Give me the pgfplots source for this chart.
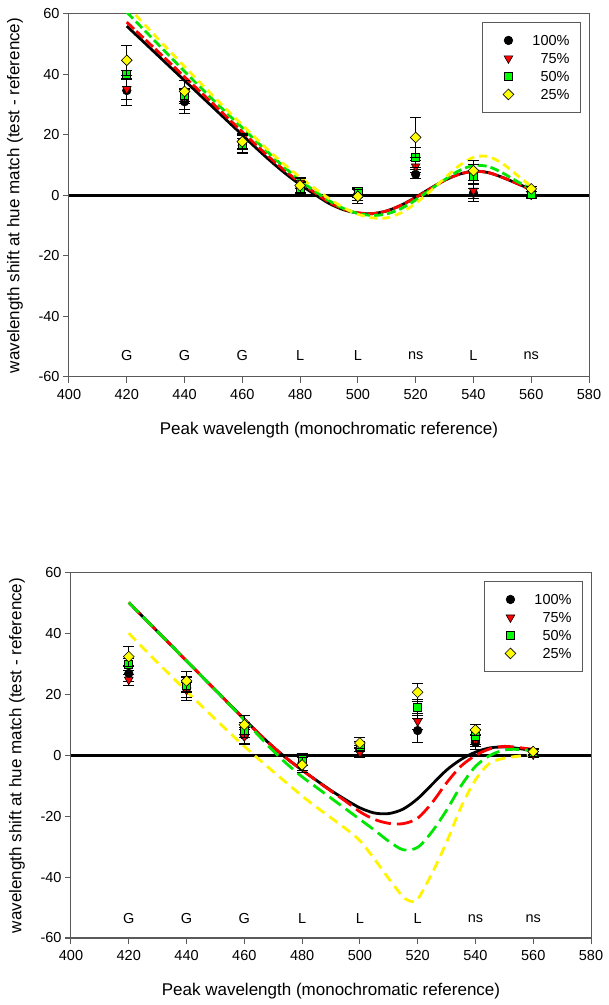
\documentclass[border=0pt]{standalone}
\usepackage{pgfplots}
\pgfplotsset{compat=1.18}
\usepackage{fontspec}
\setmainfont{Liberation Sans}

\definecolor{cgreen}{RGB}{0,230,0}
\definecolor{cyellow}{RGB}{255,245,0}
\definecolor{mgreen}{RGB}{0,255,0}
\definecolor{myellow}{RGB}{255,255,0}
\definecolor{axgray}{RGB}{90,90,90}

\pgfplotsset{
  myaxis/.style={
    scale only axis, width=520pt,
    xmin=400, xmax=580, ymin=-60, ymax=60,
    xtick={400,420,...,580}, ytick={-60,-40,...,60},
    tick align=outside, tick pos=left, major tick length=6pt,
    axis line style={axgray, line width=1pt},
    every tick/.style={axgray, line width=1pt},
    /pgf/number format/assume math mode=true,
    tick label style={font=\fontsize{14.5}{17}\selectfont},
    xticklabel style={yshift=-3pt},
    label style={font=\fontsize{17}{20}\selectfont},
    xlabel={Peak wavelength (monochromatic reference)},
    ylabel={wavelength shift at hue match (test - reference)},
    ylabel style={at={(axis description cs:-0.104,0.5)}, anchor=center},
    legend cell align=right,
    legend style={at={(axis description cs:0.9846,0.978)}, anchor=north east,
      draw=axgray, line width=0.9pt, fill=white,
      inner xsep=11pt, inner ysep=11pt, row sep=4pt,
      font=\fontsize{14.5}{17}\selectfont,
      nodes={inner sep=0pt, text height=12pt, text depth=2pt},
      /tikz/every odd column/.append style={column sep=15pt}},
    clip mode=individual,
  },
  lmark/.style={only marks,
    legend image code/.code={\path[draw=none,fill=none] (0pt,0pt) rectangle (24pt,0pt); \path[##1, line width=0.6pt] plot[only marks] coordinates {(15pt,0pt)};},
    error bars/y dir=both, error bars/y explicit,
    error bars/error bar style={black, line width=0.8pt},
    error bars/error mark options={rotate=90, mark size=5.5pt, black, line width=0.8pt}},
  s100/.style={lmark, mark=*, mark options={fill=black, draw=black, line width=0.6pt}, mark size=4.3pt},
  s75/.style={lmark, mark=triangle*, mark options={fill=red, draw=black, rotate=180, line width=0.6pt}, mark size=5pt},
  s50/.style={lmark, mark=square*, mark options={fill=mgreen, draw=black, line width=0.6pt}, mark size=4pt},
  s25/.style={lmark, mark=square*, mark options={fill=myellow, draw=black, rotate=45, line width=0.6pt}, mark size=3.8pt},
  curve/.style={line width=2.8pt, smooth, forget plot},
}

\begin{document}
\begin{tikzpicture}
\useasboundingbox (0,0) rectangle (609pt,1005pt);

% ---------------- top chart ----------------
\begin{axis}[myaxis, at={(69pt,628pt)}, anchor=south west, height=363pt,
  xlabel style={at={(axis description cs:0.5,-0.146)}, anchor=center}]
\addplot[black, line width=3pt, forget plot] coordinates {(400,0) (580,0)};
\addplot[black, curve] coordinates {
(420,56) (425,51.5) (430,47) (435,42.5) (440,38) (445,33.5) (450,29) (455,24.5) (460,20)
(465,15.5) (470,11.2) (475,7.2) (480,3.6) (485,0.4) (490,-2.6) (495,-4.7) (500,-5.8)
(505,-6.0) (510,-5.1) (515,-3.2) (520,-0.6) (525,2.3) (530,5.0) (535,7.0) (540,8.0)
(545,7.6) (550,6.0) (555,4.0) (560,2.0)};
\addplot[red, curve, dash pattern=on 10pt off 3pt] coordinates {
(420,57.3) (425,52.8) (430,48.3) (435,43.8) (440,39.2) (445,34.7) (450,30.2) (455,25.6) (460,21)
(465,16.5) (470,12.1) (475,8) (480,4.3) (485,1) (490,-2.2) (495,-4.5) (500,-5.7)
(505,-6.0) (510,-5.1) (515,-3.2) (520,-0.7) (525,2.2) (530,5) (535,7) (540,8)
(545,7.6) (550,6) (555,4) (560,1.8)};
\addplot[cgreen, curve, dash pattern=on 9pt off 4pt] coordinates {
(420,60.6) (425,55.7) (430,50.8) (435,45.9) (440,41) (445,36.2) (450,31.5) (455,26.9) (460,22.4)
(465,17.8) (470,13.3) (475,9) (480,5) (485,1.5) (490,-1.7) (495,-4.3) (500,-5.9)
(505,-6.6) (510,-6.1) (515,-4.3) (520,-1.5) (525,1.9) (530,5.2) (535,8.2) (540,9.9)
(545,9.6) (550,7.5) (555,4.7) (560,2.2)};
\addplot[cyellow, curve, dash pattern=on 8pt off 5pt] coordinates {
(420,62.8) (425,57.7) (430,52.6) (435,47.6) (440,42.6) (445,37.7) (450,32.8) (455,28) (460,23.3)
(465,18.6) (470,14.1) (475,9.9) (480,6) (485,2.4) (490,-1) (495,-4) (500,-6.2)
(505,-7.4) (510,-7.4) (515,-5.7) (520,-2.6) (525,1.4) (530,5.7) (535,9.8) (540,12.6)
(545,12.9) (550,10.6) (555,6.8) (560,3)};

\addplot[s100] coordinates {(420,34.7) +- (0,5) (440,31) +- (0,4) (460,16.5) +- (0,2.5)
 (480,2.5) +- (0,2) (500,0.5) +- (0,2) (520,7) +- (0,1.5) (540,0.8) +- (0,2.8) (560,0.2) +- (0,1)};
\addlegendentry{100\%}
\addplot[s75] coordinates {(420,35.2) +- (0,3.5) (440,32) +- (0,3.5) (460,18) +- (0,2.5)
 (480,4.2) +- (0,1.8) (500,1) +- (0,1.5) (520,9.6) +- (0,2) (540,1.6) +- (0,2.5) (560,0.3) +- (0,1)};
\addlegendentry{75\%}
\addplot[s50] coordinates {(420,40) +- (0,1.5) (440,33) +- (0,2) (460,17) +- (0,2.8)
 (480,2.4) +- (0,1.8) (500,1.3) +- (0,1.5) (520,12.6) +- (0,3.2) (540,6.3) +- (0,4) (560,0.5) +- (0,1)};
\addlegendentry{50\%}
\addplot[s25] coordinates {(420,44.7) +- (0,5) (440,34.4) +- (0,3.8) (460,17.8) +- (0,2.5)
 (480,3.3) +- (0,2.4) (500,-0.3) +- (0,2.2) (520,19.2) +- (0,6.7) (540,8.2) +- (0,3.3) (560,2.2) +- (0,0.8)};
\addlegendentry{25\%}

\begin{scope}[font=\fontsize{14.5}{17}\selectfont]
\node at (axis cs:420,-53) {G};
\node at (axis cs:440,-53) {G};
\node at (axis cs:460,-53) {G};
\node at (axis cs:480,-53) {L};
\node at (axis cs:500,-53) {L};
\node at (axis cs:520,-53) {ns};
\node at (axis cs:540,-53) {L};
\node at (axis cs:560,-53) {ns};
\end{scope}
\end{axis}

% ---------------- bottom chart ----------------
\begin{axis}[myaxis, at={(71pt,67pt)}, anchor=south west, height=365pt,
  xlabel style={at={(axis description cs:0.5,-0.145)}, anchor=center}]
\addplot[black, line width=3pt, forget plot] coordinates {(400,0) (580,0)};
\addplot[black, curve] coordinates {
(420,50.3) (425,45.5) (430,40.7) (435,35.9) (440,31.1) (445,26.3) (450,21.5) (455,16.7) (460,11.9)
(465,7.2) (470,2.8) (475,-1.2) (480,-4.8) (485,-8.2) (490,-11.5) (495,-14.5) (500,-17.2)
(505,-18.9) (510,-19.1) (515,-17.6) (520,-14.2) (525,-9.5) (530,-4.8) (535,-1.3) (540,1.1)
(545,2.5) (550,2.8) (555,2.3) (560,1.6)};
\addplot[red, curve, dash pattern=on 16pt off 6pt] coordinates {
(420,50.3) (425,45.5) (430,40.7) (435,35.9) (440,31.1) (445,26.3) (450,21.5) (455,16.7) (460,11.9)
(465,7.2) (470,2.8) (475,-1.2) (480,-4.8) (485,-8.3) (490,-11.7) (495,-15) (500,-18.5)
(505,-21) (510,-22.3) (515,-22.4) (520,-20.6) (525,-15.5) (530,-9) (535,-3.5) (540,0)
(545,2.2) (550,3) (555,2.6) (560,2)};
\addplot[cgreen, curve, dash pattern=on 14pt off 6pt] coordinates {
(420,50.3) (425,45.5) (430,40.7) (435,35.9) (440,31.1) (445,26.3) (450,21.5) (455,16.6) (460,11.6)
(465,6.5) (470,1.5) (475,-3) (480,-7) (485,-10.5) (490,-14) (495,-17.5) (500,-21)
(505,-24.5) (510,-28.2) (515,-31) (520,-30.2) (525,-25) (530,-18) (535,-10) (540,-3.6)
(545,0) (550,1.8) (555,2) (560,1.5)};
\addplot[cyellow, curve, dash pattern=on 10pt off 6pt] coordinates {
(420,40.2) (425,35.3) (430,30.5) (435,25.8) (440,21.1) (445,16.5) (450,11.9) (455,7.4) (460,3)
(465,-1.2) (470,-5.3) (475,-9.3) (480,-13.3) (485,-17) (490,-20.5) (495,-24) (500,-28)
(505,-34) (510,-40.5) (515,-46.5) (518,-48) (520,-47.3) (525,-38.7) (530,-28.5) (535,-17)
(540,-8) (545,-2.5) (550,-0.9) (555,-0.2) (560,0.3)};

\addplot[s100] coordinates {(420,27) +- (0,2.5) (440,22) +- (0,4) (460,6.6) +- (0,2.5)
 (480,-2.5) +- (0,2.5) (500,1.9) +- (0,1.5) (520,8.2) +- (0,4) (540,4.3) +- (0,2.4) (560,1) +- (0,1)};
\addlegendentry{100\%}
\addplot[s75] coordinates {(420,24.9) +- (0,1.8) (440,21.5) +- (0,2.5) (460,6.2) +- (0,2.5)
 (480,-1.4) +- (0,2) (500,1) +- (0,1.5) (520,11.2) +- (0,2.5) (540,5) +- (0,2) (560,0.3) +- (0,1)};
\addlegendentry{75\%}
\addplot[s50] coordinates {(420,30) +- (0,2) (440,23.2) +- (0,2.5) (460,8.4) +- (0,2.5)
 (480,-1.2) +- (0,2) (500,3) +- (0,1.5) (520,15.8) +- (0,2.5) (540,6.2) +- (0,2.5) (560,1.2) +- (0,1)};
\addlegendentry{50\%}
\addplot[s25] coordinates {(420,32.5) +- (0,3.3) (440,24.5) +- (0,3.3) (460,10.1) +- (0,3.1)
 (480,-3.1) +- (0,2.4) (500,4.1) +- (0,1.8) (520,20.8) +- (0,3) (540,8.4) +- (0,1.9) (560,1.3) +- (0,1)};
\addlegendentry{25\%}

\begin{scope}[font=\fontsize{14.5}{17}\selectfont]
\node at (axis cs:420,-53.5) {G};
\node at (axis cs:440,-53.5) {G};
\node at (axis cs:460,-53.5) {G};
\node at (axis cs:480,-53.5) {L};
\node at (axis cs:500,-53.5) {L};
\node at (axis cs:520,-53.5) {L};
\node at (axis cs:540,-53.5) {ns};
\node at (axis cs:560,-53.5) {ns};
\end{scope}
\end{axis}
\end{tikzpicture}
\end{document}
